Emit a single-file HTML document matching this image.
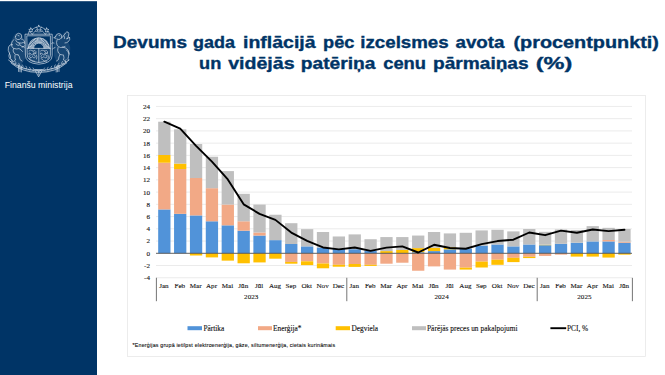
<!DOCTYPE html>
<html><head><meta charset="utf-8"><style>
html,body{margin:0;padding:0;background:#fff;width:665px;height:375px;overflow:hidden}
svg{display:block}
</style></head><body>
<svg width="665" height="375" viewBox="0 0 665 375">
<rect x="0" y="0" width="665" height="375" fill="#fff"/>
<rect x="0" y="1.2" width="97" height="374" fill="#003466"/>
<g fill="none" stroke="#dfe6ef" stroke-width="0.65" stroke-linejoin="round" stroke-linecap="round">
<polygon points="38.80,25.30 39.68,26.99 41.56,27.30 40.23,28.66 40.50,30.55 38.80,29.70 37.10,30.55 37.37,28.66 36.04,27.30 37.92,26.99"/>
<polygon points="30.90,28.00 31.55,29.31 32.99,29.52 31.95,30.54 32.19,31.98 30.90,31.30 29.61,31.98 29.85,30.54 28.81,29.52 30.25,29.31"/>
<polygon points="46.70,28.00 47.35,29.31 48.79,29.52 47.75,30.54 47.99,31.98 46.70,31.30 45.41,31.98 45.65,30.54 44.61,29.52 46.05,29.31"/>
<path stroke-width="0.55" d="M32.4,34.2 L30.2,32.2 M32.4,34.2 L35.2,31.0 L36.4,29.4 M45.2,34.2 L47.4,32.2 M45.2,34.2 L42.4,31.0 L41.2,29.4 M32.8,29.0 L36.0,27.2 M44.8,29.0 L41.6,27.2 M35.6,31.6 Q38.8,32.4 42.0,31.6 M29,31.5 L28.2,34.2 M48.6,31.5 L49.4,34.2"/>
<path d="M25.4,34.2 L52.2,34.2 L52.2,55.5 Q52.2,63.2 38.8,64.2 Q25.4,63.2 25.4,55.5 Z"/>
<path d="M27.2,35.8 L50.4,35.8 L50.4,55.2 Q50.4,61.6 38.8,62.5 Q27.2,61.6 27.2,55.2 Z"/>
<path d="M27.2,48.4 L50.4,48.4 M38.8,48.4 L38.8,62.5"/>
<path d="M33.6,48.4 A5.2,5.2 0 0 1 44.0,48.4"/>
<path d="M28.2,48.4 A10.6,10.6 0 0 1 49.4,48.4"/>
<path stroke-width="0.8" d="M32.92,47.96 L28.43,47.62 M33.05,47.09 L28.66,46.09 M33.31,46.24 L29.12,44.60 M33.69,45.45 L29.79,43.20 M34.19,44.72 L30.67,41.92 M34.79,44.07 L31.73,40.78 M35.48,43.53 L32.94,39.81 M36.24,43.08 L34.29,39.03 M37.06,42.76 L35.73,38.46 M37.92,42.57 L37.25,38.12 M38.80,42.50 L38.80,38.00 M39.68,42.57 L40.35,38.12 M40.54,42.76 L41.87,38.46 M41.36,43.08 L43.31,39.03 M42.12,43.53 L44.66,39.81 M42.81,44.07 L45.87,40.78 M43.41,44.72 L46.93,41.92 M43.91,45.45 L47.81,43.20 M44.29,46.24 L48.48,44.60 M44.55,47.09 L48.94,46.09 M44.68,47.96 L49.17,47.62"/>
<path stroke-width="0.55" d="M29,51 q1.5,-1.5 3,-0.5 q1.5,1 3,0 q1.5,1 1,2.5 q-1.5,1 -3,0.5 q0.5,1.5 2,2 q1,1.5 -0.5,2.5 q-1.5,0 -2,-1.5 q-1,1.5 -2.5,1 q-1,-1 0,-2 q-1.5,-1 -1,-2.5 q1,-0.5 1.5,0.5 M29.5,58.5 q2,1 3,2.5 q1.5,-0.5 2.5,0.5 M33,51.5 q1,2 3,2 M30.5,54 q1,1 2.5,1 M36.5,55 q1,2 0,4"/>
<path stroke-width="0.55" d="M40.5,51 q1.5,-1.5 3,-0.5 q1.5,1 3,0 q1.5,1 1,2.5 q-1.5,1 -3,0.5 q0.5,1.5 2,2 q1,1.5 -0.5,2.5 q-1.5,0 -2,-1.5 q-1,1.5 -2.5,1 q-1,-1 0,-2 q-1.5,-1 -1,-2.5 q1,-0.5 1.5,0.5 M41,58.5 q2,1 3,2.5 q1.5,-0.5 2.5,0.5 M44.5,51.5 q1,2 3,2 M42,54 q1,1 2.5,1 M48,55 q1,2 0,4"/>
<path d="M15.5,36.5 q0.5,-3 3,-3.2 q2.8,0 3.2,2.6 q0.2,2.4 -2,3.4 q-2,0.8 -3.5,-0.4 q-1.5,-1 -0.7,-2.4 M18,35.5 l1,0.3 M14,39.5 q-2.5,1.5 -2.5,4.5 q0,3 2,4.5 q-1,2.5 0.5,4.5 q1.5,2 4,2 M15.5,40 q1,2.5 3.5,3 q2.5,0.5 4.5,-0.5 M19,43 q0.5,2.5 3,3.5 q1.5,0.5 2.5,-0.5 M14,48.5 q3,1 5,0 q2,1 3.5,3 M16,44 q1.5,1.5 3,1.5 M12.5,44.5 q-3,-0.5 -4,2.5 q-1,3.5 1,6.5 q1.5,2.5 1,5 q0.5,2 2,2.5 M9.5,53 q-1.5,3 0,5.5 M18,54.5 q2,2 2,5 l2,1.5 M15,55 q-0.5,3 0.5,5 l-2,1.5 M22,47 q1.5,-1 2.5,0.5 M21.5,39 q1.5,0 2.5,1.5 q1,1.5 0.5,3"/>
<path d="M55.5,36.8 q0.5,-2.8 3,-3.2 q2.5,-0.2 3.2,2.2 q0.4,2.2 -1.6,3.4 q-1.8,0.8 -3.3,-0.2 M55.5,36.8 l-1.8,0.9 l1.8,0.6 M59,35.5 l0.8,0.2 M61.5,38 q2.5,-2 4,-5 q1,-1.5 2.5,-1 q1.5,1.5 0.5,4 q-0.5,2 -2,3 q2,-0.5 3,-2 q1,2.5 -1,4.5 q-1.5,1.5 -3.5,1.5 M64,36 q1,1 0.5,2.5 M57,40 q-1,2.5 0,5 q1,2 3.5,2.5 q2.5,0 4.5,-1 M58,47.5 q-1,3 0.5,5.5 q1.5,2 4,2 M62.5,47 q3.5,0.5 5.5,3 q2,3 0.5,6.5 q-1,2 0,4 M60,54.5 q-1.5,2.5 -1.5,5 l-2,1.5 M63.5,55 q1,3 0,5 l2,1.5 M54,43 q-1.5,-1 -2.5,0.5 M55,47.5 q-1.5,0.5 -2.5,1.5 M66.5,50 q2,1.5 2.5,4"/>
<path d="M8.5,60 Q20,70.5 38.8,70.5 Q57.6,70.5 69.1,60"/>
<path d="M11,63 Q22,72.5 38.8,72.3 Q55.6,72.5 66.6,63"/>
<path stroke-width="0.55" d="M11.50,59.44 q1.2,1.2 0.8,2.8 q-1.2,0.2 -2,-0.8 M66.10,59.44 q-1.2,1.2 -0.8,2.8 q1.2,0.2 2,-0.8 M15.10,61.36 q1.2,1.2 0.8,2.8 q-1.2,0.2 -2,-0.8 M62.50,61.36 q-1.2,1.2 -0.8,2.8 q1.2,0.2 2,-0.8 M18.70,63.14 q1.2,1.2 0.8,2.8 q-1.2,0.2 -2,-0.8 M58.90,63.14 q-1.2,1.2 -0.8,2.8 q1.2,0.2 2,-0.8 M22.30,64.74 q1.2,1.2 0.8,2.8 q-1.2,0.2 -2,-0.8 M55.30,64.74 q-1.2,1.2 -0.8,2.8 q1.2,0.2 2,-0.8 M25.90,66.10 q1.2,1.2 0.8,2.8 q-1.2,0.2 -2,-0.8 M51.70,66.10 q-1.2,1.2 -0.8,2.8 q1.2,0.2 2,-0.8 M29.50,67.16 q1.2,1.2 0.8,2.8 q-1.2,0.2 -2,-0.8 M48.10,67.16 q-1.2,1.2 -0.8,2.8 q1.2,0.2 2,-0.8 M33.10,67.88 q1.2,1.2 0.8,2.8 q-1.2,0.2 -2,-0.8 M44.50,67.88 q-1.2,1.2 -0.8,2.8 q1.2,0.2 2,-0.8"/>
<path d="M18.6,65 L18.6,71.5 M20,65.5 L20,71.8 M21.4,66 L21.4,72 M56.2,66 L56.2,72 M57.6,65.5 L57.6,71.8 M59,65 L59,71.5"/>
<path d="M35,69.5 L42.6,69.5 L38.8,76.5 Z M36.6,70.5 q2.2,2 4.4,0 M38.8,71 L38.8,75"/>
<g stroke="none" fill="#dfe6ef" fill-opacity="0.11">
<path d="M15,34 q4,-2 7,1 q2,3 1,6 l3,2 l0,14 q-3,5 -5,8 l-8,0 q-4,-6 -4,-14 q0,-8 6,-17 Z"/>
<path d="M56,34 q4,-2 6,1 q3,-4 6,-3 q2,4 0,10 q3,4 2,10 q-1,6 -3,12 l-8,0 q-3,-3 -5,-8 l0,-14 Z"/>
<path d="M27.2,48.4 L50.4,48.4 L50.4,55.2 Q50.4,61.6 38.8,62.5 Q27.2,61.6 27.2,55.2 Z"/>
<path d="M28.2,48.4 A10.6,10.6 0 0 1 49.4,48.4 L44.0,48.4 A5.2,5.2 0 0 0 33.6,48.4 Z"/>
<path d="M14,62 Q24,70 38.8,70 Q53.6,70 63.6,62 L66,64 Q55,73.5 38.8,73.5 Q22.6,73.5 11.6,64 Z"/>
</g>
</g>
<text x="4.7" y="88" font-family="Liberation Sans, sans-serif" font-size="8.8" fill="#fff" textLength="67.8" lengthAdjust="spacingAndGlyphs">Finanšu ministrija</text>
<g font-family="Liberation Sans, sans-serif" font-weight="bold" font-size="16.5" fill="#003466" stroke="#003466" stroke-width="0.35">
<text x="113.1" y="48.2" textLength="73.85" lengthAdjust="spacingAndGlyphs">Devums</text>
<text x="193.0" y="48.2" textLength="41.92" lengthAdjust="spacingAndGlyphs">gada</text>
<text x="243.1" y="48.2" textLength="72.42" lengthAdjust="spacingAndGlyphs">inflācijā</text>
<text x="323.1" y="48.2" textLength="31.38" lengthAdjust="spacingAndGlyphs">pēc</text>
<text x="360.3" y="48.2" textLength="88.34" lengthAdjust="spacingAndGlyphs">izcelsmes</text>
<text x="455.5" y="48.2" textLength="49.01" lengthAdjust="spacingAndGlyphs">avota</text>
<text x="513.5" y="48.2" textLength="145.44" lengthAdjust="spacingAndGlyphs">(procentpunkti)</text>
<text x="199.1" y="69.2" textLength="22.25" lengthAdjust="spacingAndGlyphs">un</text>
<text x="228.2" y="69.2" textLength="66.42" lengthAdjust="spacingAndGlyphs">vidējās</text>
<text x="300.8" y="69.2" textLength="74.73" lengthAdjust="spacingAndGlyphs">patēriņa</text>
<text x="383.2" y="69.2" textLength="42.84" lengthAdjust="spacingAndGlyphs">cenu</text>
<text x="433.1" y="69.2" textLength="95.49" lengthAdjust="spacingAndGlyphs">pārmaiņas</text>
<text x="535.7" y="69.2" textLength="36.61" lengthAdjust="spacingAndGlyphs">(%)</text>
</g>
<rect x="127.5" y="95.5" width="518" height="261" fill="#fff" stroke="#e6e6e6" stroke-width="0.75"/>
<line x1="156.0" y1="277.78" x2="632.0" y2="277.78" stroke="#e4e4e4" stroke-width="0.75"/><line x1="156.0" y1="265.54" x2="632.0" y2="265.54" stroke="#e4e4e4" stroke-width="0.75"/><line x1="156.0" y1="241.06" x2="632.0" y2="241.06" stroke="#e4e4e4" stroke-width="0.75"/><line x1="156.0" y1="228.82" x2="632.0" y2="228.82" stroke="#e4e4e4" stroke-width="0.75"/><line x1="156.0" y1="216.58" x2="632.0" y2="216.58" stroke="#e4e4e4" stroke-width="0.75"/><line x1="156.0" y1="204.34" x2="632.0" y2="204.34" stroke="#e4e4e4" stroke-width="0.75"/><line x1="156.0" y1="192.10" x2="632.0" y2="192.10" stroke="#e4e4e4" stroke-width="0.75"/><line x1="156.0" y1="179.86" x2="632.0" y2="179.86" stroke="#e4e4e4" stroke-width="0.75"/><line x1="156.0" y1="167.62" x2="632.0" y2="167.62" stroke="#e4e4e4" stroke-width="0.75"/><line x1="156.0" y1="155.38" x2="632.0" y2="155.38" stroke="#e4e4e4" stroke-width="0.75"/><line x1="156.0" y1="143.14" x2="632.0" y2="143.14" stroke="#e4e4e4" stroke-width="0.75"/><line x1="156.0" y1="130.90" x2="632.0" y2="130.90" stroke="#e4e4e4" stroke-width="0.75"/><line x1="156.0" y1="118.66" x2="632.0" y2="118.66" stroke="#e4e4e4" stroke-width="0.75"/><line x1="156.0" y1="106.42" x2="632.0" y2="106.42" stroke="#e4e4e4" stroke-width="0.75"/>
<rect x="158.18" y="209.42" width="12.3" height="43.88" fill="#5193d9"/><rect x="158.18" y="162.72" width="12.3" height="46.70" fill="#f2a986"/><rect x="158.18" y="155.01" width="12.3" height="7.71" fill="#ffc000"/><rect x="158.18" y="121.72" width="12.3" height="33.29" fill="#bfbfbf"/><rect x="174.05" y="213.83" width="12.3" height="39.47" fill="#5193d9"/><rect x="174.05" y="169.03" width="12.3" height="44.80" fill="#f2a986"/><rect x="174.05" y="163.58" width="12.3" height="5.45" fill="#ffc000"/><rect x="174.05" y="129.31" width="12.3" height="34.27" fill="#bfbfbf"/><rect x="189.92" y="215.42" width="12.3" height="37.88" fill="#5193d9"/><rect x="189.92" y="178.02" width="12.3" height="37.39" fill="#f2a986"/><rect x="189.92" y="144.00" width="12.3" height="34.03" fill="#bfbfbf"/><rect x="189.92" y="253.30" width="12.3" height="2.20" fill="#ffc000"/><rect x="205.78" y="221.29" width="12.3" height="32.01" fill="#5193d9"/><rect x="205.78" y="188.18" width="12.3" height="33.11" fill="#f2a986"/><rect x="205.78" y="156.73" width="12.3" height="31.46" fill="#bfbfbf"/><rect x="205.78" y="253.30" width="12.3" height="4.10" fill="#ffc000"/><rect x="221.65" y="225.33" width="12.3" height="27.97" fill="#5193d9"/><rect x="221.65" y="204.52" width="12.3" height="20.81" fill="#f2a986"/><rect x="221.65" y="171.11" width="12.3" height="33.42" fill="#bfbfbf"/><rect x="221.65" y="253.30" width="12.3" height="7.34" fill="#ffc000"/><rect x="237.52" y="230.72" width="12.3" height="22.58" fill="#5193d9"/><rect x="237.52" y="221.29" width="12.3" height="9.42" fill="#f2a986"/><rect x="237.52" y="193.81" width="12.3" height="27.48" fill="#bfbfbf"/><rect x="237.52" y="253.30" width="12.3" height="9.98" fill="#ffc000"/><rect x="253.38" y="235.55" width="12.3" height="17.75" fill="#5193d9"/><rect x="253.38" y="232.49" width="12.3" height="3.06" fill="#f2a986"/><rect x="253.38" y="204.58" width="12.3" height="27.91" fill="#bfbfbf"/><rect x="253.38" y="253.30" width="12.3" height="9.12" fill="#ffc000"/><rect x="269.25" y="240.14" width="12.3" height="13.16" fill="#5193d9"/><rect x="269.25" y="214.74" width="12.3" height="25.40" fill="#bfbfbf"/><rect x="269.25" y="253.30" width="12.3" height="5.39" fill="#ffc000"/><rect x="285.12" y="244.00" width="12.3" height="9.30" fill="#5193d9"/><rect x="285.12" y="223.19" width="12.3" height="20.81" fill="#bfbfbf"/><rect x="285.12" y="253.30" width="12.3" height="8.63" fill="#f2a986"/><rect x="285.12" y="261.93" width="12.3" height="1.77" fill="#ffc000"/><rect x="300.98" y="246.38" width="12.3" height="6.92" fill="#5193d9"/><rect x="300.98" y="229.13" width="12.3" height="17.26" fill="#bfbfbf"/><rect x="300.98" y="253.30" width="12.3" height="8.02" fill="#f2a986"/><rect x="300.98" y="261.32" width="12.3" height="3.79" fill="#ffc000"/><rect x="316.85" y="247.49" width="12.3" height="5.81" fill="#5193d9"/><rect x="316.85" y="232.00" width="12.3" height="15.48" fill="#bfbfbf"/><rect x="316.85" y="253.30" width="12.3" height="10.22" fill="#f2a986"/><rect x="316.85" y="263.52" width="12.3" height="4.77" fill="#ffc000"/><rect x="332.72" y="248.77" width="12.3" height="4.53" fill="#5193d9"/><rect x="332.72" y="236.47" width="12.3" height="12.30" fill="#bfbfbf"/><rect x="332.72" y="253.30" width="12.3" height="11.51" fill="#f2a986"/><rect x="332.72" y="264.81" width="12.3" height="1.90" fill="#ffc000"/><rect x="348.58" y="249.20" width="12.3" height="4.10" fill="#5193d9"/><rect x="348.58" y="234.39" width="12.3" height="14.81" fill="#bfbfbf"/><rect x="348.58" y="253.30" width="12.3" height="10.71" fill="#f2a986"/><rect x="348.58" y="264.01" width="12.3" height="2.88" fill="#ffc000"/><rect x="364.45" y="250.79" width="12.3" height="2.51" fill="#5193d9"/><rect x="364.45" y="239.22" width="12.3" height="11.57" fill="#bfbfbf"/><rect x="364.45" y="253.30" width="12.3" height="11.51" fill="#f2a986"/><rect x="364.45" y="264.81" width="12.3" height="1.10" fill="#ffc000"/><rect x="380.32" y="251.10" width="12.3" height="2.20" fill="#ffc000"/><rect x="380.32" y="237.08" width="12.3" height="14.01" fill="#bfbfbf"/><rect x="380.32" y="253.30" width="12.3" height="10.40" fill="#f2a986"/><rect x="396.18" y="250.00" width="12.3" height="3.30" fill="#ffc000"/><rect x="396.18" y="237.08" width="12.3" height="12.91" fill="#bfbfbf"/><rect x="396.18" y="253.30" width="12.3" height="9.42" fill="#f2a986"/><rect x="412.05" y="252.20" width="12.3" height="1.10" fill="#5193d9"/><rect x="412.05" y="248.10" width="12.3" height="4.10" fill="#ffc000"/><rect x="412.05" y="235.55" width="12.3" height="12.55" fill="#bfbfbf"/><rect x="412.05" y="253.30" width="12.3" height="17.44" fill="#f2a986"/><rect x="427.92" y="251.10" width="12.3" height="2.20" fill="#5193d9"/><rect x="427.92" y="247.79" width="12.3" height="3.30" fill="#ffc000"/><rect x="427.92" y="232.00" width="12.3" height="15.79" fill="#bfbfbf"/><rect x="427.92" y="253.30" width="12.3" height="13.10" fill="#f2a986"/><rect x="443.78" y="249.32" width="12.3" height="3.98" fill="#5193d9"/><rect x="443.78" y="247.18" width="12.3" height="2.14" fill="#ffc000"/><rect x="443.78" y="233.41" width="12.3" height="13.77" fill="#bfbfbf"/><rect x="443.78" y="253.30" width="12.3" height="16.28" fill="#f2a986"/><rect x="459.65" y="248.53" width="12.3" height="4.77" fill="#5193d9"/><rect x="459.65" y="232.80" width="12.3" height="15.73" fill="#bfbfbf"/><rect x="459.65" y="253.30" width="12.3" height="14.38" fill="#f2a986"/><rect x="459.65" y="267.68" width="12.3" height="1.90" fill="#ffc000"/><rect x="475.52" y="245.59" width="12.3" height="7.71" fill="#5193d9"/><rect x="475.52" y="230.41" width="12.3" height="15.18" fill="#bfbfbf"/><rect x="475.52" y="253.30" width="12.3" height="8.32" fill="#f2a986"/><rect x="475.52" y="261.62" width="12.3" height="5.88" fill="#ffc000"/><rect x="491.38" y="244.49" width="12.3" height="8.81" fill="#5193d9"/><rect x="491.38" y="229.80" width="12.3" height="14.69" fill="#bfbfbf"/><rect x="491.38" y="253.30" width="12.3" height="6.43" fill="#f2a986"/><rect x="491.38" y="259.73" width="12.3" height="5.08" fill="#ffc000"/><rect x="507.25" y="246.38" width="12.3" height="6.92" fill="#5193d9"/><rect x="507.25" y="231.39" width="12.3" height="14.99" fill="#bfbfbf"/><rect x="507.25" y="253.30" width="12.3" height="4.53" fill="#f2a986"/><rect x="507.25" y="257.83" width="12.3" height="4.28" fill="#ffc000"/><rect x="523.12" y="244.49" width="12.3" height="8.81" fill="#5193d9"/><rect x="523.12" y="229.00" width="12.3" height="15.48" fill="#bfbfbf"/><rect x="523.12" y="253.30" width="12.3" height="3.49" fill="#f2a986"/><rect x="523.12" y="256.79" width="12.3" height="1.29" fill="#ffc000"/><rect x="538.98" y="245.22" width="12.3" height="8.08" fill="#5193d9"/><rect x="538.98" y="244.73" width="12.3" height="0.49" fill="#ffc000"/><rect x="538.98" y="231.82" width="12.3" height="12.91" fill="#bfbfbf"/><rect x="538.98" y="253.30" width="12.3" height="2.63" fill="#f2a986"/><rect x="554.85" y="243.81" width="12.3" height="9.49" fill="#5193d9"/><rect x="554.85" y="229.49" width="12.3" height="14.32" fill="#bfbfbf"/><rect x="554.85" y="253.30" width="12.3" height="1.35" fill="#f2a986"/><rect x="570.72" y="242.71" width="12.3" height="10.59" fill="#5193d9"/><rect x="570.72" y="230.11" width="12.3" height="12.61" fill="#bfbfbf"/><rect x="570.72" y="253.30" width="12.3" height="3.30" fill="#ffc000"/><rect x="586.58" y="241.43" width="12.3" height="11.87" fill="#5193d9"/><rect x="586.58" y="226.13" width="12.3" height="15.30" fill="#bfbfbf"/><rect x="586.58" y="253.30" width="12.3" height="3.30" fill="#ffc000"/><rect x="602.45" y="241.43" width="12.3" height="11.87" fill="#5193d9"/><rect x="602.45" y="240.02" width="12.3" height="1.41" fill="#f2a986"/><rect x="602.45" y="227.84" width="12.3" height="12.18" fill="#bfbfbf"/><rect x="602.45" y="253.30" width="12.3" height="4.28" fill="#ffc000"/><rect x="618.32" y="242.71" width="12.3" height="10.59" fill="#5193d9"/><rect x="618.32" y="241.73" width="12.3" height="0.98" fill="#f2a986"/><rect x="618.32" y="229.00" width="12.3" height="12.73" fill="#bfbfbf"/><rect x="618.32" y="253.30" width="12.3" height="1.35" fill="#ffc000"/>
<line x1="156.0" y1="253.3" x2="632.0" y2="253.3" stroke="#505050" stroke-width="0.9"/>
<polyline points="164.33,121.72 180.20,128.70 196.07,145.89 211.93,161.68 227.80,179.49 243.67,204.34 259.53,213.83 275.40,219.88 291.27,232.61 307.13,240.82 323.00,247.49 338.87,249.32 354.73,247.49 370.60,250.85 386.47,247.67 402.33,246.38 418.20,252.50 434.07,244.79 449.93,247.98 465.80,248.77 481.67,244.12 497.53,241.06 513.40,239.71 529.27,232.49 545.13,235.18 561.00,230.66 576.87,232.80 592.73,229.49 608.60,231.15 624.47,229.80" fill="none" stroke="#000" stroke-width="1.9" stroke-linejoin="round" stroke-linecap="round"/>
<g font-family="Liberation Serif, serif" font-size="7.1" fill="#111" stroke="#111" stroke-width="0.1">
<text x="150" y="280.18" text-anchor="end">-4</text><text x="150" y="267.94" text-anchor="end">-2</text><text x="150" y="255.70" text-anchor="end">0</text><text x="150" y="243.46" text-anchor="end">2</text><text x="150" y="231.22" text-anchor="end">4</text><text x="150" y="218.98" text-anchor="end">6</text><text x="150" y="206.74" text-anchor="end">8</text><text x="150" y="194.50" text-anchor="end">10</text><text x="150" y="182.26" text-anchor="end">12</text><text x="150" y="170.02" text-anchor="end">14</text><text x="150" y="157.78" text-anchor="end">16</text><text x="150" y="145.54" text-anchor="end">18</text><text x="150" y="133.30" text-anchor="end">20</text><text x="150" y="121.06" text-anchor="end">22</text><text x="150" y="108.82" text-anchor="end">24</text>
</g>
<g font-family="Liberation Serif, serif" font-size="7.1" fill="#111" stroke="#111" stroke-width="0.1">
<text x="163.93" y="287.6" text-anchor="middle">Jan</text><text x="179.80" y="287.6" text-anchor="middle">Feb</text><text x="195.67" y="287.6" text-anchor="middle">Mar</text><text x="211.53" y="287.6" text-anchor="middle">Apr</text><text x="227.40" y="287.6" text-anchor="middle">Mai</text><text x="243.27" y="287.6" text-anchor="middle">Jūn</text><text x="259.13" y="287.6" text-anchor="middle">Jūl</text><text x="275.00" y="287.6" text-anchor="middle">Aug</text><text x="290.87" y="287.6" text-anchor="middle">Sep</text><text x="306.73" y="287.6" text-anchor="middle">Okt</text><text x="322.60" y="287.6" text-anchor="middle">Nov</text><text x="338.47" y="287.6" text-anchor="middle">Dec</text><text x="354.33" y="287.6" text-anchor="middle">Jan</text><text x="370.20" y="287.6" text-anchor="middle">Feb</text><text x="386.07" y="287.6" text-anchor="middle">Mar</text><text x="401.93" y="287.6" text-anchor="middle">Apr</text><text x="417.80" y="287.6" text-anchor="middle">Mai</text><text x="433.67" y="287.6" text-anchor="middle">Jūn</text><text x="449.53" y="287.6" text-anchor="middle">Jūl</text><text x="465.40" y="287.6" text-anchor="middle">Aug</text><text x="481.27" y="287.6" text-anchor="middle">Sep</text><text x="497.13" y="287.6" text-anchor="middle">Okt</text><text x="513.00" y="287.6" text-anchor="middle">Nov</text><text x="528.87" y="287.6" text-anchor="middle">Dec</text><text x="544.73" y="287.6" text-anchor="middle">Jan</text><text x="560.60" y="287.6" text-anchor="middle">Feb</text><text x="576.47" y="287.6" text-anchor="middle">Mar</text><text x="592.33" y="287.6" text-anchor="middle">Apr</text><text x="608.20" y="287.6" text-anchor="middle">Mai</text><text x="624.07" y="287.6" text-anchor="middle">Jūn</text><text x="251.20" y="298.6" text-anchor="middle">2023</text><text x="441.60" y="298.6" text-anchor="middle">2024</text><text x="584.40" y="298.6" text-anchor="middle">2025</text>
</g>
<line x1="156.40" y1="277.8" x2="156.40" y2="301.2" stroke="#3a3a3a" stroke-width="0.7"/><line x1="346.80" y1="277.8" x2="346.80" y2="301.2" stroke="#3a3a3a" stroke-width="0.7"/><line x1="537.20" y1="277.8" x2="537.20" y2="301.2" stroke="#3a3a3a" stroke-width="0.7"/><line x1="632.40" y1="277.8" x2="632.40" y2="301.2" stroke="#3a3a3a" stroke-width="0.7"/>
<g font-family="Liberation Serif, serif" font-size="7.35" fill="#111">
<rect x="187.5" y="326.2" width="14.5" height="4" fill="#5193d9"/>
<text x="203.5" y="330.6" stroke="#111" stroke-width="0.12">Pārtika</text>
<rect x="258" y="326.2" width="14" height="4" fill="#f2a986"/>
<text x="273" y="330.6" stroke="#111" stroke-width="0.12">Enerģija*</text>
<rect x="335.7" y="326.2" width="14.3" height="4" fill="#ffc000"/>
<text x="351.5" y="330.6" stroke="#111" stroke-width="0.12">Degviela</text>
<rect x="412" y="326.2" width="14" height="4" fill="#bfbfbf"/>
<text x="427" y="330.6" textLength="90.5" lengthAdjust="spacing" stroke="#111" stroke-width="0.12">Pārējās preces un pakalpojumi</text>
<line x1="550.4" y1="328.2" x2="566.2" y2="328.2" stroke="#000" stroke-width="1.9"/>
<text x="567" y="330.6" stroke="#111" stroke-width="0.12">PCI, %</text>
</g>
<text x="132.6" y="346.6" font-family="Liberation Sans, sans-serif" font-size="5.3" fill="#111" stroke="#111" stroke-width="0.1" textLength="202.5" lengthAdjust="spacing">*Enerģijas grupā ietilpst elektroenerģija, gāze, siltumenerģija, cietais kurināmais</text>
</svg>
</body></html>
